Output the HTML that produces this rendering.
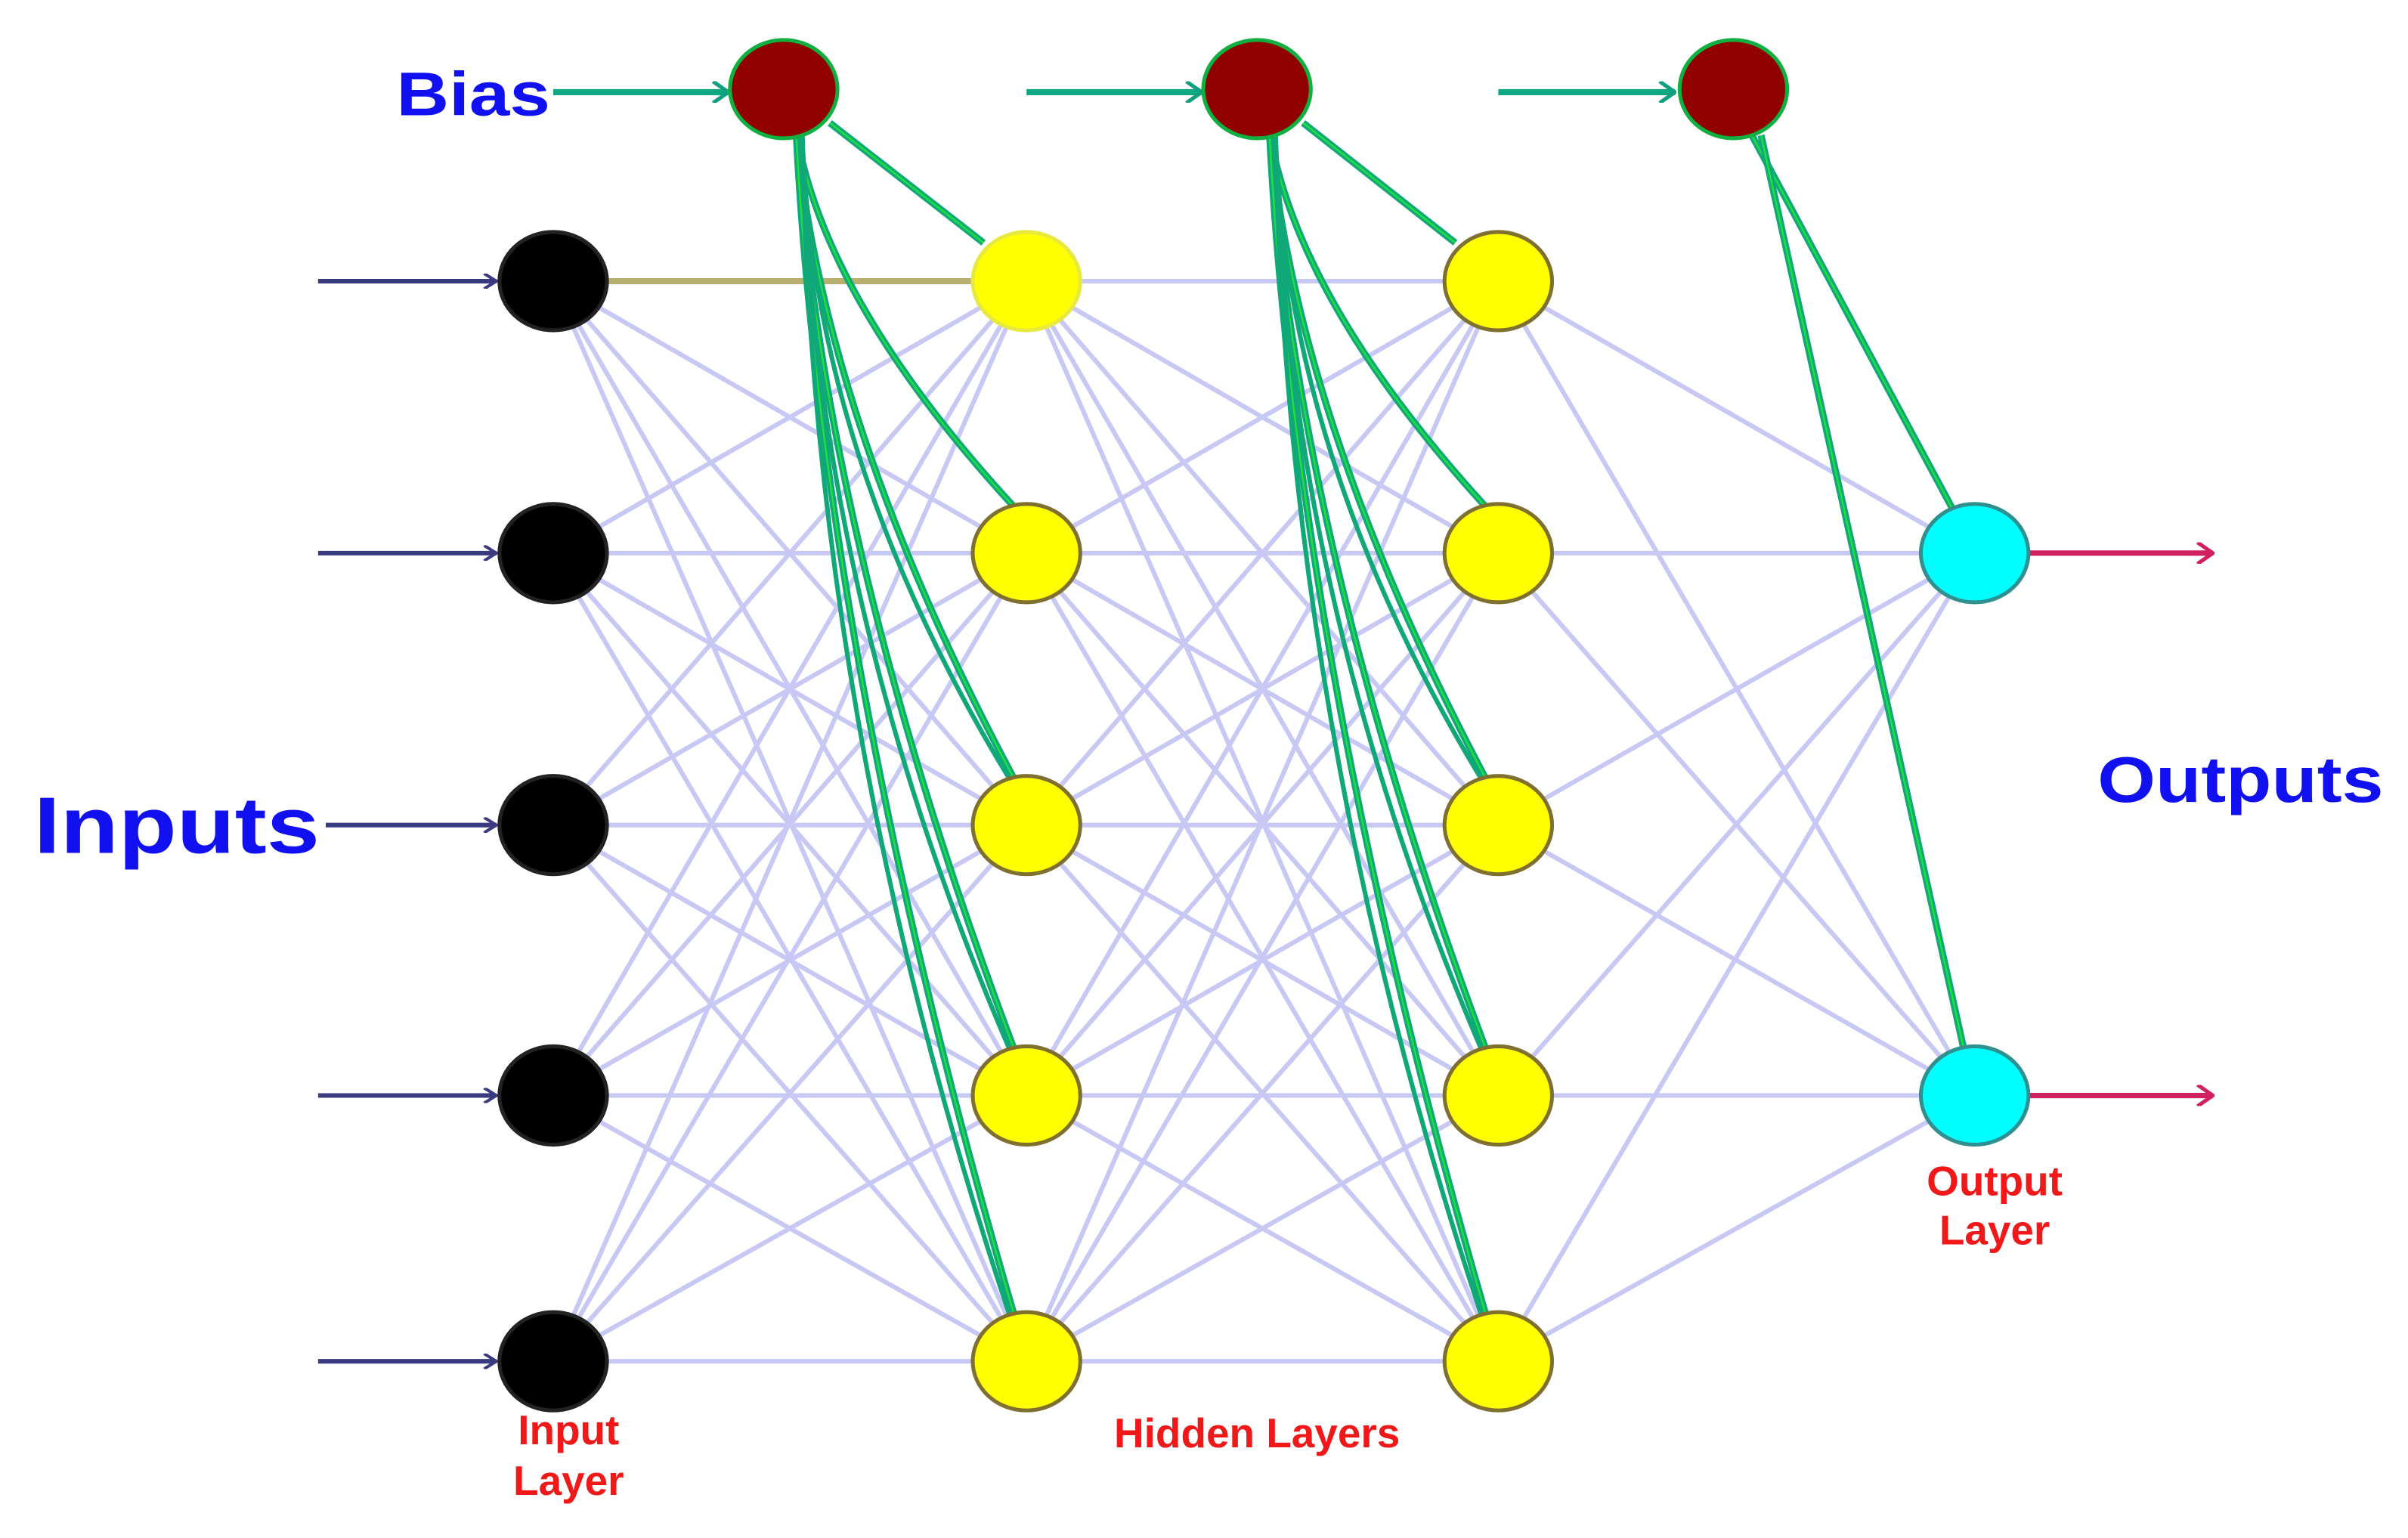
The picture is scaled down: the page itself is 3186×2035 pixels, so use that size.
<!DOCTYPE html>
<html><head><meta charset="utf-8"><style>
html,body{margin:0;padding:0;background:#fff;width:3186px;height:2035px;overflow:hidden}
svg{display:block}
</style></head><body>
<svg id="s" width="3186" height="2035" viewBox="0 0 1567 1001" preserveAspectRatio="none" xmlns="http://www.w3.org/2000/svg">
<defs>
<marker id="an" markerWidth="10" markerHeight="10" refX="9" refY="5" orient="auto" markerUnits="userSpaceOnUse"><path d="M1,0 L9,5 L1,10" fill="none" stroke="#3a3a80" stroke-width="2"/></marker>
<marker id="ag" markerWidth="12" markerHeight="14" refX="11" refY="7" orient="auto" markerUnits="userSpaceOnUse"><path d="M1,0 L11,7 L1,14" fill="none" stroke="#10a080" stroke-width="2.5"/></marker>
<marker id="ar" markerWidth="12" markerHeight="14" refX="11" refY="7" orient="auto" markerUnits="userSpaceOnUse"><path d="M1,0 L11,7 L1,14" fill="none" stroke="#d02060" stroke-width="2.5"/></marker>
</defs>
<g id="light" stroke="#c8c8f4" stroke-width="3" fill="none"></g>
<line x1="395" y1="183" x2="632" y2="183" stroke="#b8b070" stroke-width="4"/>
<g id="green" fill="none"></g>
<g id="arrows">
<line x1="207" y1="183" x2="323" y2="183" stroke="#3a3a80" stroke-width="3" marker-end="url(#an)"/>
<line x1="207" y1="360" x2="323" y2="360" stroke="#3a3a80" stroke-width="3" marker-end="url(#an)"/>
<line x1="212" y1="537" x2="323" y2="537" stroke="#3a3a80" stroke-width="3" marker-end="url(#an)"/>
<line x1="207" y1="713" x2="323" y2="713" stroke="#3a3a80" stroke-width="3" marker-end="url(#an)"/>
<line x1="207" y1="886" x2="323" y2="886" stroke="#3a3a80" stroke-width="3" marker-end="url(#an)"/>
<line x1="360" y1="60" x2="474" y2="60" stroke="#10a880" stroke-width="4" marker-end="url(#ag)"/>
<line x1="668" y1="60" x2="782" y2="60" stroke="#10a880" stroke-width="4" marker-end="url(#ag)"/>
<line x1="975" y1="60" x2="1090" y2="60" stroke="#10a880" stroke-width="4" marker-end="url(#ag)"/>
<line x1="1320" y1="360" x2="1440" y2="360" stroke="#d02060" stroke-width="3.5" marker-end="url(#ar)"/>
<line x1="1320" y1="713" x2="1440" y2="713" stroke="#d02060" stroke-width="3.5" marker-end="url(#ar)"/>
</g>
<g id="nodes"></g>
<g font-family="Liberation Sans, sans-serif" font-weight="bold">
<text x="258" y="75" font-size="40" fill="#1010f0" textLength="100" lengthAdjust="spacingAndGlyphs">Bias</text>
<text x="22" y="555" font-size="52" fill="#1010f0" textLength="186" lengthAdjust="spacingAndGlyphs">Inputs</text>
<text x="1365" y="522" font-size="42" fill="#1010f0" textLength="186" lengthAdjust="spacingAndGlyphs">Outputs</text>
<g fill="#f01818" font-size="27" text-anchor="middle" font-weight="bold">
<text x="370" y="940">Input</text><text x="370" y="973">Layer</text>
<text x="818" y="942">Hidden Layers</text>
<text x="1298" y="778">Output</text><text x="1298" y="810">Layer</text>
</g>
</g>
</svg>
<script>
var NS="http://www.w3.org/2000/svg";
function el(p,t,a){var e=document.createElementNS(NS,t);for(var k in a)e.setAttribute(k,a[k]);p.appendChild(e);return e;}
var ys=[183,360,537,713,886], X=[360,668,975], oy=[360,713], ox=1285;
var L=document.getElementById('light');
for(var l=0;l<2;l++)for(var i=0;i<5;i++)for(var j=0;j<5;j++){if(l==0&&i==0&&j==0)continue;el(L,'line',{x1:X[l],y1:ys[i],x2:X[l+1],y2:ys[j]});}
for(var i=0;i<5;i++)for(var j=0;j<2;j++)el(L,'line',{x1:X[2],y1:ys[i],x2:ox,y2:oy[j]});
var G=document.getElementById('green');
var bx=[510,818,1128];
for(var b=0;b<2;b++){var hx=X[b+1];
 for(var j=0;j<5;j++){var sx=bx[b]+8,sy=85,ex=hx-(j==0?28:8),ey=ys[j]-30;
  var d=j==0?('M'+(sx+22)+','+(sy-5)+' L'+ex+','+(ey+5)):('M'+sx+','+sy+' Q'+(sx+18)+','+(sy+(ey-sy)*0.45)+' '+ex+','+ey);
  el(G,'path',{d:d,stroke:'#10a878','stroke-width':4.5});
  el(G,'path',{d:d,stroke:'#20e040','stroke-width':1.2});
  if(j>1){var d2='M'+(sx+4)+','+sy+' Q'+(sx+10)+','+(sy+(ey-sy)*0.5)+' '+(ex-3)+','+ey;el(G,'path',{d:d2,stroke:'#10a878','stroke-width':3});}
 }}
[[1140,88,1270,330],[1146,88,1278,683]].forEach(function(c){el(G,'line',{x1:c[0],y1:c[1],x2:c[2],y2:c[3],stroke:'#10a878','stroke-width':4.5});el(G,'line',{x1:c[0],y1:c[1],x2:c[2],y2:c[3],stroke:'#20e040','stroke-width':1.2});});
var N=document.getElementById('nodes');
function node(x,y,f,s){el(N,'ellipse',{cx:x,cy:y,rx:35,ry:32,fill:f,stroke:s,'stroke-width':2.5});}
ys.forEach(function(y){node(360,y,'#000','#222');});
ys.forEach(function(y,i){node(668,y,'#ffff00',i==0?'#e8e840':'#807030');node(975,y,'#ffff00','#807030');});
oy.forEach(function(y){node(ox,y,'#00ffff','#309090');});
bx.forEach(function(x){node(x,58,'#900000','#10b040');});
</script>
</body></html>
